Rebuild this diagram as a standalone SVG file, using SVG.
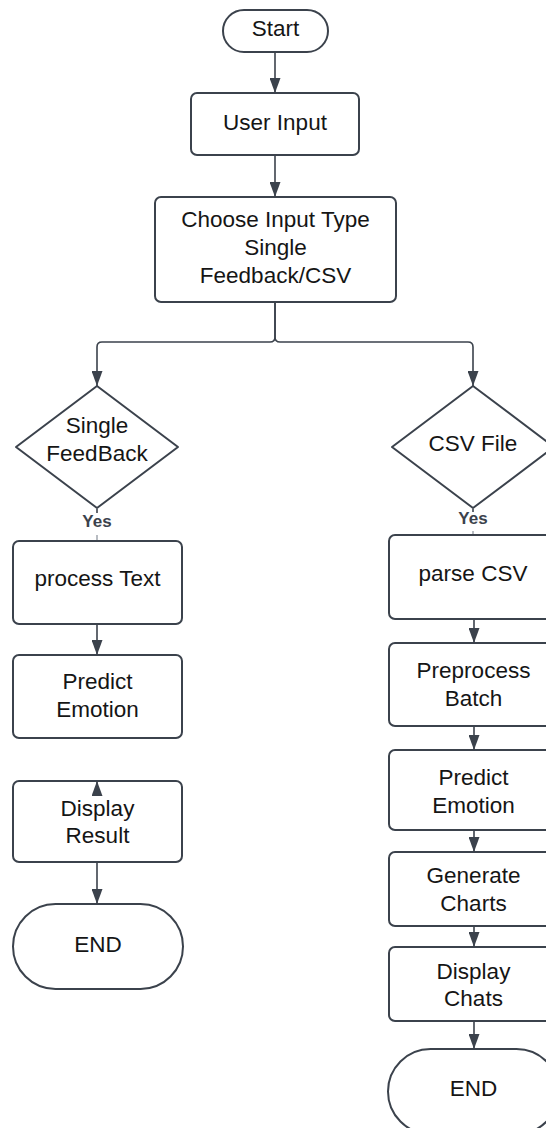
<svg xmlns="http://www.w3.org/2000/svg" width="546" height="1128" viewBox="0 0 546 1128">
  <style>
    .shape { fill: #ffffff; stroke: #3b424c; stroke-width: 2; }
    .lbl { font-family: "Liberation Sans", Arial, sans-serif; font-size: 22.5px; fill: #151515; text-anchor: middle; }
    .yes { font-family: "Liberation Sans", Arial, sans-serif; font-size: 17px; font-weight: bold; fill: #3b424c; text-anchor: middle; }
    .edge { fill: none; stroke: #3b424c; stroke-width: 1.6; }
    .edge-faint { fill: none; stroke: #9aa0a8; stroke-width: 1.4; }
  </style>
  <defs>
    <marker id="arrow" markerUnits="userSpaceOnUse" markerWidth="15" markerHeight="11" refX="15" refY="5.5" orient="auto" viewBox="0 0 15 11">
      <path d="M0,0 L15,5.5 L0,11 Z" fill="#3b424c"/>
    </marker>
  </defs>

  <rect width="546" height="1128" fill="#ffffff"/>

  <g id="start">
    <rect class="shape" x="223" y="10" width="105" height="42" rx="21"/>
    <text class="lbl" x="275.5" y="36">Start</text>
  </g>

  <g id="user-input">
    <rect class="shape" x="191" y="93" width="168" height="62" rx="6"/>
    <text class="lbl" x="275" y="129.5">User Input</text>
  </g>

  <g id="choose-input">
    <rect class="shape" x="155" y="197" width="241" height="105" rx="6"/>
    <text class="lbl" x="275.5" y="227.3">Choose Input Type</text>
    <text class="lbl" x="275.5" y="255.3">Single</text>
    <text class="lbl" x="275.5" y="283.3">Feedback/CSV</text>
  </g>

  <g id="single-feedback">
    <path class="shape" stroke-linejoin="round" d="M97 386 L178 447 L97 508 L16 447 Z"/>
    <text class="lbl" x="97" y="433.3">Single</text>
    <text class="lbl" x="97" y="461">FeedBack</text>
    <text class="yes" x="97" y="527">Yes</text>
  </g>

  <g id="csv-file">
    <path class="shape" stroke-linejoin="round" d="M473 386 L554 447 L473 508 L392 447 Z"/>
    <text class="lbl" x="473" y="451">CSV File</text>
    <text class="yes" x="473" y="524">Yes</text>
  </g>

  <g id="process-text">
    <rect class="shape" x="13" y="541" width="169" height="83" rx="6"/>
    <text class="lbl" x="97.5" y="586">process Text</text>
  </g>

  <g id="predict-emotion-single">
    <rect class="shape" x="13" y="655" width="169" height="83" rx="6"/>
    <text class="lbl" x="97.5" y="689.3">Predict</text>
    <text class="lbl" x="97.5" y="717.3">Emotion</text>
  </g>

  <g id="display-result">
    <rect class="shape" x="13" y="781" width="169" height="81" rx="6"/>
    <text class="lbl" x="97.5" y="815.7">Display</text>
    <text class="lbl" x="97.5" y="843.3">Result</text>
  </g>

  <g id="end-single">
    <rect class="shape" x="13" y="904" width="170" height="85" rx="42.5"/>
    <text class="lbl" x="98" y="951.7">END</text>
  </g>

  <g id="parse-csv">
    <rect class="shape" x="389" y="535" width="169" height="84" rx="6"/>
    <text class="lbl" x="473" y="580.5">parse CSV</text>
  </g>

  <g id="preprocess-batch">
    <rect class="shape" x="389" y="643" width="169" height="83" rx="6"/>
    <text class="lbl" x="473.5" y="678">Preprocess</text>
    <text class="lbl" x="473.5" y="706">Batch</text>
  </g>

  <g id="predict-emotion-batch">
    <rect class="shape" x="389" y="750" width="169" height="80" rx="6"/>
    <text class="lbl" x="473.5" y="785">Predict</text>
    <text class="lbl" x="473.5" y="812.7">Emotion</text>
  </g>

  <g id="generate-charts">
    <rect class="shape" x="389" y="852" width="169" height="74" rx="6"/>
    <text class="lbl" x="473.5" y="883.3">Generate</text>
    <text class="lbl" x="473.5" y="911.3">Charts</text>
  </g>

  <g id="display-chats">
    <rect class="shape" x="389" y="947" width="169" height="74" rx="6"/>
    <text class="lbl" x="473.5" y="979">Display</text>
    <text class="lbl" x="473.5" y="1006">Chats</text>
  </g>

  <g id="end-batch">
    <rect class="shape" x="388" y="1049" width="171" height="85" rx="42.5"/>
    <text class="lbl" x="473.5" y="1096">END</text>
  </g>

  <!-- connectors, drawn above the nodes so edge arrowheads stay visible -->
  <g id="connectors">
    <path class="edge" d="M275 53 V93" marker-end="url(#arrow)"/>
    <path class="edge" d="M275 156 V197" marker-end="url(#arrow)"/>
    <path class="edge" d="M275 303 V337 Q275 342 270 342 H102 Q97 342 97 347 V386" marker-end="url(#arrow)"/>
    <path class="edge" d="M275 303 V337 Q275 342 280 342 H468 Q473 342 473 347 V386" marker-end="url(#arrow)"/>

    <!-- Yes branch, single feedback -->
    <path class="edge" d="M97 509 V513"/>
    <path class="edge-faint" d="M97 535 V540"/>
    <!-- Yes branch, CSV file -->
    <path class="edge" d="M473 509 V512"/>
    <path class="edge-faint" d="M473 531 V534"/>

    <path class="edge" d="M97 625 V655" marker-end="url(#arrow)"/>
    <path class="edge" d="M97 796 V781" marker-end="url(#arrow)"/>
    <path class="edge" d="M97 863 V904" marker-end="url(#arrow)"/>

    <path class="edge" d="M474 620 V643" marker-end="url(#arrow)"/>
    <path class="edge" d="M474 727 V750" marker-end="url(#arrow)"/>
    <path class="edge" d="M474 831 V852" marker-end="url(#arrow)"/>
    <path class="edge" d="M474 927 V947" marker-end="url(#arrow)"/>
    <path class="edge" d="M474 1022 V1049" marker-end="url(#arrow)"/>
  </g>
</svg>
